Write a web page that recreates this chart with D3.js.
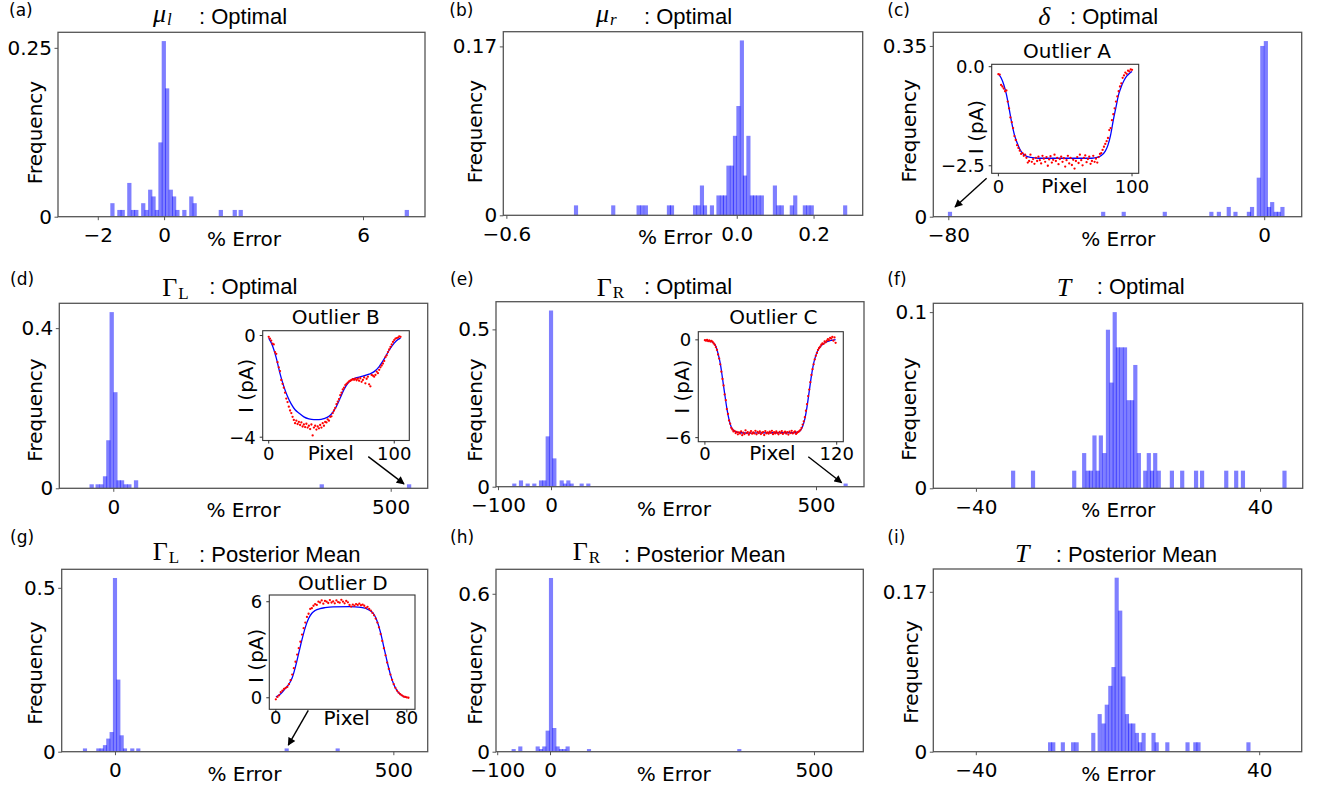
<!DOCTYPE html>
<html>
<head>
<meta charset="utf-8">
<title>Percent error histograms</title>
<script src="https://cdn.jsdelivr.net/npm/d3@7"></script>
<style>
  body { margin: 0; background: #fff; }
  text { font-family: "DejaVu Sans", sans-serif; fill: #000; }
</style>
</head>
<body>
<div id="fig"></div>
<script>
'use strict'

// ---- histograms: left edge of every non-empty bin (% error) and its frequency
let muLBins = [-1.61, -1.40, -1.30, -1.10, -0.99, -0.89, -0.68, -0.58, -0.47, -0.37, -0.27, -0.16, -0.06, 0.04, 0.15, 0.25, 0.35, 0.56, 0.77, 0.87, 1.66, 2.08, 2.26, 7.27]
let muLFreq = [0.02, 0.01, 0.01, 0.05, 0.01, 0.01, 0.02, 0.01, 0.04, 0.03, 0.01, 0.11, 0.26, 0.19, 0.04, 0.03, 0.01, 0.01, 0.03, 0.02, 0.01, 0.01, 0.01, 0.01]

let muRBins = [-0.423, -0.326, -0.260, -0.251, -0.241, -0.181, -0.173, -0.113, -0.104, -0.095, -0.087, -0.069, -0.052, -0.043, -0.035, -0.026, -0.017, -0.009, 0.000, 0.009, 0.017, 0.026, 0.035, 0.043, 0.052, 0.061, 0.095, 0.104, 0.113, 0.139, 0.148, 0.173, 0.182, 0.191, 0.278]
let muRFreq = [0.01, 0.01, 0.01, 0.01, 0.01, 0.01, 0.01, 0.01, 0.01, 0.03, 0.01, 0.01, 0.02, 0.02, 0.02, 0.05, 0.05, 0.08, 0.11, 0.176, 0.04, 0.08, 0.02, 0.02, 0.02, 0.02, 0.03, 0.01, 0.01, 0.01, 0.02, 0.01, 0.01, 0.01, 0.01]

let deltaBins = [-80.0, -41.2, -36.0, -25.6, -13.8, -11.9, -9.4, -7.7, -4.3, -3.5, -1.8, -0.9, 0.0, 0.8, 1.6, 2.5, 3.3, 4.2]
let deltaFreq = [0.01, 0.01, 0.01, 0.01, 0.01, 0.01, 0.02, 0.01, 0.01, 0.02, 0.08, 0.35, 0.36, 0.02, 0.03, 0.01, 0.01, 0.02]

let gamLBins = [-42.1, -31.3, -24.6, -18.0, -12.0, -6.0, 0.6, 6.6, 12.6, 19.2, 25.8, 37.9, 372.6, 530.0]
let gamLFreq = [0.01, 0.01, 0.01, 0.03, 0.12, 0.44, 0.24, 0.02, 0.02, 0.01, 0.01, 0.02, 0.01, 0.01]

let gamRBins = [-72.4, -59.8, -47.2, -34.6, -22.0, -15.7, -9.4, -3.1, 3.2, 17.0, 23.3, 29.6, 35.8, 54.7, 67.3, 552.8]
let gamRFreq = [0.01, 0.02, 0.01, 0.01, 0.02, 0.02, 0.16, 0.56, 0.09, 0.02, 0.01, 0.02, 0.01, 0.01, 0.01, 0.01]

let tBins = [-30.0, -24.4, -12.8, -10.0, -9.0, -8.1, -7.1, -6.2, -5.3, -4.3, -3.3, -2.3, -1.4, -0.5, 0.5, 1.5, 2.5, 3.5, 4.4, 5.4, 7.2, 8.2, 9.1, 10.0, 11.0, 14.7, 17.6, 21.5, 23.2, 30.0, 32.8, 34.7, 46.4]
let tFreq = [0.01, 0.01, 0.01, 0.02, 0.01, 0.01, 0.03, 0.01, 0.03, 0.02, 0.09, 0.06, 0.10, 0.08, 0.08, 0.08, 0.05, 0.05, 0.07, 0.02, 0.01, 0.02, 0.01, 0.02, 0.01, 0.01, 0.01, 0.01, 0.01, 0.01, 0.01, 0.01, 0.01]

let gamLPostBins = [-56.9, -32.9, -26.9, -21.0, -15.0, -9.0, -3.0, 3.0, 9.0, 15.0, 28.1, 38.9, 305.4, 397.0]
let gamLPostFreq = [0.01, 0.01, 0.01, 0.02, 0.04, 0.06, 0.53, 0.22, 0.05, 0.01, 0.01, 0.01, 0.01, 0.01]

let gamRPostBins = [-72.0, -59.4, -26.5, -20.2, -13.9, -7.6, -1.3, 5.0, 11.3, 17.6, 23.9, 30.2, 70.7, 355.4]
let gamRPostFreq = [0.01, 0.02, 0.02, 0.01, 0.02, 0.08, 0.66, 0.09, 0.02, 0.01, 0.01, 0.02, 0.01, 0.01]

let tPostBins = [-19.5, -18.6, -15.9, -13.0, -12.0, -7.3, -5.5, -4.4, -3.5, -2.5, -1.6, -0.7, 0.3, 1.2, 2.2, 3.1, 4.0, 5.0, 5.9, 6.9, 9.7, 10.6, 13.6, 19.3, 21.5, 22.4, 36.5]
let tPostFreq = [0.01, 0.01, 0.01, 0.01, 0.01, 0.02, 0.04, 0.03, 0.05, 0.07, 0.09, 0.185, 0.15, 0.08, 0.04, 0.03, 0.03, 0.02, 0.01, 0.02, 0.02, 0.01, 0.01, 0.01, 0.01, 0.01, 0.01]

// ---- tick values
let muLTicks = [-2, 0, 6]
let muRTicks = [-0.6, 0.0, 0.2]
let deltaTicks = [-80, 0]
let gamLTicks = [0, 500]
let gamRTicks = [-100, 0, 500]
let tTicks = [-40, 40]

// ---- outlier insets: measured current I (pA) at pixel 0,1,2,...
let outlierA = [-0.19, -0.20, -0.46, -0.50, -0.55, -0.62, -0.60, -0.88, -1.05, -1.28,
	-1.40, -1.55, -1.75, -1.85, -1.98, -2.05, -2.12, -2.20, -2.18, -2.25,
	-2.22, -2.30, -2.42, -2.38, -2.22, -2.40, -2.33, -2.45, -2.30, -2.38,
	-2.27, -2.36, -2.44, -2.25, -2.32, -2.40, -2.28, -2.50, -2.34, -2.26,
	-2.42, -2.35, -2.22, -2.38, -2.30, -2.46, -2.33, -2.27, -2.40, -2.31,
	-2.52, -2.36, -2.25, -2.44, -2.30, -2.48, -2.35, -2.57, -2.38, -2.28,
	-2.43, -2.22, -2.36, -2.49, -2.30, -2.24, -2.41, -2.33, -2.27, -2.45,
	-2.38, -2.25, -2.40, -2.32, -2.42, -2.28, -2.20, -2.18, -2.10, -2.02,
	-1.95, -1.88, -1.80, -1.60, -1.55, -1.35, -1.20, -1.05, -0.88, -0.75,
	-0.62, -0.50, -0.42, -0.28, -0.22, -0.15, -0.18, -0.10, -0.12, -0.07,
	-0.08]
let fitAx = [0, 2, 4, 6, 8, 10, 12, 14, 16, 18, 20, 24, 30, 50, 70, 74, 77, 80, 82, 84, 86, 88, 90, 92, 94, 96, 98, 100]
let fitAy = [-0.18, -0.28, -0.45, -0.70, -1.05, -1.42, -1.72, -1.92, -2.08, -2.18, -2.24, -2.29, -2.31, -2.31, -2.31, -2.29, -2.24, -2.13, -1.98, -1.72, -1.35, -1.02, -0.70, -0.50, -0.35, -0.24, -0.17, -0.12]

let outlierB = [-0.05, -0.12, -0.20, -0.32, -0.35, -0.65, -0.72, -1.05, -1.25, -1.40,
	-1.75, -1.90, -2.05, -2.25, -2.48, -2.62, -2.80, -2.95, -3.05, -3.20,
	-3.32, -3.45, -3.35, -3.48, -3.40, -3.52, -3.42, -3.58, -3.50, -3.60,
	-3.47, -3.62, -3.55, -3.68, -3.50, -3.93, -3.62, -3.55, -3.70, -3.58,
	-3.65, -3.52, -3.62, -3.45, -3.55, -3.40, -3.42, -3.30, -3.35, -3.20,
	-3.18, -3.05, -2.95, -2.85, -2.70, -2.60, -2.50, -2.35, -2.25, -2.12,
	-2.05, -1.95, -1.90, -1.85, -1.80, -1.78, -1.75, -1.72, -1.74, -1.70,
	-1.76, -1.70, -1.78, -1.68, -1.82, -1.75, -1.65, -1.88, -1.70, -1.62,
	-1.92, -2.00, -1.55, -1.58, -1.62, -1.55, -1.42, -1.48, -1.35, -1.25,
	-1.18, -1.10, -1.00, -0.85, -0.78, -0.65, -0.55, -0.45, -0.35, -0.25,
	-0.18, -0.12, -0.10, -0.08, -0.03, -0.05]
let fitBx = [0, 3, 6, 9, 12, 15, 18, 21, 24, 28, 32, 36, 40, 44, 48, 51, 54, 57, 60, 63, 66, 70, 75, 80, 84, 88, 92, 96, 100, 103, 105]
let fitBy = [-0.10, -0.40, -0.88, -1.50, -2.00, -2.40, -2.70, -2.92, -3.05, -3.20, -3.28, -3.31, -3.31, -3.27, -3.18, -3.02, -2.78, -2.45, -2.12, -1.88, -1.74, -1.66, -1.60, -1.52, -1.42, -1.22, -0.92, -0.57, -0.30, -0.16, -0.10]

let outlierC = [-0.02, -0.05, 0.00, -0.08, -0.04, -0.10, -0.06, -0.12, -0.22, -0.30,
	-0.45, -0.62, -0.90, -1.15, -1.50, -1.95, -2.40, -2.80, -3.35, -3.70,
	-4.25, -4.55, -4.95, -5.15, -5.40, -5.50, -5.62, -5.58, -5.72, -5.65,
	-5.80, -5.68, -5.75, -5.62, -5.85, -5.70, -5.78, -5.55, -5.72, -5.66,
	-5.82, -5.70, -5.60, -5.76, -5.68, -5.74, -5.58, -5.80, -5.65, -5.72,
	-5.62, -5.78, -5.70, -5.66, -5.84, -5.60, -5.73, -5.68, -5.76, -5.64,
	-5.70, -5.58, -5.79, -5.67, -5.74, -5.62, -5.71, -5.80, -5.65, -5.72,
	-5.60, -5.77, -5.69, -5.63, -5.75, -5.66, -5.81, -5.64, -5.72, -5.58,
	-5.74, -5.68, -5.62, -5.77, -5.70, -5.65, -5.60, -5.52, -5.40, -5.20,
	-5.00, -4.75, -4.35, -3.95, -3.45, -3.05, -2.60, -2.15, -1.80, -1.50,
	-1.20, -0.98, -0.80, -0.62, -0.50, -0.42, -0.30, -0.22, -0.25, -0.10,
	-0.15, -0.05, 0.05, -0.02, 0.12, 0.08, 0.18, -0.05, 0.15, -0.18]
let fitCx = [0, 4, 8, 10, 12, 14, 16, 18, 20, 22, 24, 26, 28, 32, 40, 60, 80, 85, 87, 89, 91, 93, 95, 97, 99, 101, 103, 106, 110, 115, 119]
let fitCy = [-0.03, -0.06, -0.20, -0.40, -0.85, -1.45, -2.35, -3.30, -4.20, -4.90, -5.35, -5.55, -5.65, -5.70, -5.72, -5.70, -5.70, -5.65, -5.55, -5.30, -4.85, -4.10, -3.15, -2.20, -1.45, -0.95, -0.62, -0.35, -0.15, -0.03, 0.02]

let outlierD = [-0.10, 0.05, 0.15, 0.35, 0.45, 0.55, 0.62, 0.68, 0.85, 1.10,
	1.45, 1.85, 2.25, 2.70, 3.10, 3.50, 3.95, 4.35, 4.70, 5.05,
	5.25, 5.55, 5.60, 5.75, 5.85, 5.80, 6.00, 5.95, 6.08, 5.88,
	6.05, 6.00, 5.92, 6.10, 5.95, 6.02, 5.90, 6.08, 5.98, 5.94,
	6.12, 6.00, 5.90, 6.05, 5.96, 5.80, 5.70, 5.82, 5.75, 5.85,
	5.80, 5.88, 5.78, 5.82, 5.75, 5.62, 5.68, 5.55, 5.45, 5.30,
	5.15, 4.95, 4.70, 4.40, 3.98, 3.55, 3.10, 2.65, 2.20, 1.80,
	1.45, 1.12, 0.85, 0.62, 0.45, 0.32, 0.22, 0.15, 0.08, 0.05,
	0.02, 0.00]
let fitDx = [0, 3, 6, 8, 10, 12, 14, 16, 18, 20, 22, 24, 27, 30, 35, 45, 52, 55, 58, 60, 62, 64, 66, 68, 70, 72, 74, 76, 78, 80]
let fitDy = [0.05, 0.25, 0.60, 0.85, 1.25, 1.95, 2.80, 3.65, 4.40, 4.95, 5.28, 5.45, 5.57, 5.63, 5.68, 5.69, 5.65, 5.58, 5.42, 5.20, 4.75, 4.05, 3.15, 2.25, 1.45, 0.85, 0.45, 0.22, 0.08, 0.03]


let panels = [
	{id: 'a', label: '(a)', lx: 9, ly: 15.5, box: [58, 32.3, 425, 216.7], xDom: [-3.2, 7.87],
	 bins: muLBins, freq: muLFreq, binW: 0.1035, xTicks: muLTicks, xFmt: 'd', yTick: 0.25, yTickText: '0.25',
	 sym: 'μ', sub: 'l', italic: true, symX: 153, symDy: -2, subDy: 3, colonX: 199, title: ': Optimal', titleY: 24,
	 ylx: 41.6, yly: 132.5, xlx: 244},
	{id: 'b', label: '(b)', lx: 449.3, ly: 15.5, box: [503.3, 31.7, 862.7, 215.3], xDom: [-0.608, 0.328],
	 bins: muRBins, freq: muRFreq, binW: 0.0087, xTicks: muRTicks, xFmt: '.1f', yTick: 0.17, yTickText: '0.17',
	 sym: 'μ', sub: 'r', italic: true, symX: 596, symDy: -2, subDy: 3, colonX: 644, title: ': Optimal', titleY: 24,
	 ylx: 481.5, yly: 131.5, xlx: 675},
	{id: 'c', label: '(c)', lx: 887.3, ly: 15.5, box: [933.3, 32.3, 1301.7, 216.7], xDom: [-83.8, 9.5],
	 bins: deltaBins, freq: deltaFreq, binW: 0.85, xTicks: deltaTicks, xFmt: 'd', yTick: 0.35, yTickText: '0.35',
	 sym: 'δ', sub: null, italic: true, symX: 1038.3, symDy: 0.5, colonX: 1070, title: ': Optimal', titleY: 24,
	 ylx: 916.3, yly: 130.8, xlx: 1118.3, arrow: [[-70.3, 0.079], [-78.3, 0.02]]},
	{id: 'd', label: '(d)', lx: 10, ly: 285, box: [59.3, 303.3, 427.7, 488.3], xDom: [-97.3, 566.7],
	 bins: gamLBins, freq: gamLFreq, binW: 6.3, xTicks: gamLTicks, xFmt: 'd', yTick: 0.4, yTickText: '0.4',
	 sym: 'Γ', sub: 'L', italic: false, symX: 162.3, symDy: 2.5, subDy: 3, colonX: 209.3, title: ': Optimal', titleY: 293.5,
	 ylx: 41.6, yly: 410, xlx: 243.5, arrow: [[459.6, 0.079], [524, 0.011]]},
	{id: 'e', label: '(e)', lx: 450, ly: 285, box: [496, 301.7, 864, 486.7], xDom: [-103.8, 590.6],
	 bins: gamRBins, freq: gamRFreq, binW: 6.3, xTicks: gamRTicks, xFmt: 'd', yTick: 0.5, yTickText: '0.5',
	 sym: 'Γ', sub: 'R', italic: false, symX: 596.7, symDy: 2, subDy: 2, colonX: 644, title: ': Optimal', titleY: 293.5,
	 ylx: 481.6, yly: 410, xlx: 674, arrow: [[485.5, 0.095], [548.5, 0.0127]]},
	{id: 'f', label: '(f)', lx: 887.3, ly: 285, box: [933.3, 303.3, 1302.7, 488.3], xDom: [-52, 52],
	 bins: tBins, freq: tFreq, binW: 0.95, xTicks: tTicks, xFmt: 'd', yTick: 0.1, yTickText: '0.1',
	 sym: 'T', sub: null, italic: true, symX: 1056.7, symDy: 2.5, colonX: 1096.7, title: ': Optimal', titleY: 293.5,
	 ylx: 916.3, yly: 409, xlx: 1118.3},
	{id: 'g', label: '(g)', lx: 10, ly: 543, box: [61.7, 569.3, 427.7, 751.7], xDom: [-95.7, 561.7],
	 bins: gamLPostBins, freq: gamLPostFreq, binW: 6.0, xTicks: gamLTicks, xFmt: 'd', yTick: 0.5, yTickText: '0.5',
	 sym: 'Γ', sub: 'L', italic: false, symX: 152.7, symDy: -1.5, subDy: 3, colonX: 199, title: ': Posterior Mean', titleY: 561.7,
	 ylx: 42, yly: 673, xlx: 244.5, arrow: [[347.2, 0.126], [311.3, 0.02]]},
	{id: 'h', label: '(h)', lx: 450, ly: 543, box: [496, 569.3, 863.3, 751.7], xDom: [-102.3, 593.4],
	 bins: gamRPostBins, freq: gamRPostFreq, binW: 6.3, xTicks: gamRTicks, xFmt: 'd', yTick: 0.6, yTickText: '0.6',
	 sym: 'Γ', sub: 'R', italic: false, symX: 572.7, symDy: -1.5, subDy: 3, colonX: 624, title: ': Posterior Mean', titleY: 561.7,
	 ylx: 482, yly: 673, xlx: 673.8},
	{id: 'i', label: '(i)', lx: 887.3, ly: 543, box: [933.3, 569, 1301.7, 751.7], xDom: [-52, 52],
	 bins: tPostBins, freq: tPostFreq, binW: 0.94, xTicks: tTicks, xFmt: 'd', yTick: 0.17, yTickText: '0.17',
	 sym: 'T', sub: null, italic: true, symX: 1015, symDy: 0, colonX: 1055.7, title: ': Posterior Mean', titleY: 561.7,
	 ylx: 918, yly: 672, xlx: 1118.3}
]

let insets = [
	{parent: 'c', box: [991.7, 64.3, 1138.7, 173.3], xDom: [-5, 105], yDom: [-2.69, 0.06], data: outlierA, fitX: fitAx, fitY: fitAy,
	 xTicks: [0, 100], yTicks: [0, -2.5], yFmt: '.1f', title: 'Outlier A', tx: 1067, ty: 58.3,
	 xlx: 1064.5, xly: 193.3, tickY: 193.3, ylx: 983, yly: 127},
	{parent: 'd', box: [262.7, 330.7, 409.3, 440.5], xDom: [-4.8, 112], yDom: [-4.13, 0.19], data: outlierB, fitX: fitBx, fitY: fitBy,
	 xTicks: [0, 100], yTicks: [0, -4], yFmt: 'd', title: 'Outlier B', tx: 335.8, ty: 324,
	 xlx: 330.8, xly: 460, tickY: 459.5, ylx: 252.7, yly: 385.8},
	{parent: 'e', box: [698.3, 331.7, 843.3, 441.7], xDom: [-6, 126], yDom: [-6.25, 0.5], data: outlierC, fitX: fitCx, fitY: fitCy,
	 xTicks: [0, 120], yTicks: [0, -6], yFmt: 'd', title: 'Outlier C', tx: 773.3, ty: 324,
	 xlx: 772.5, xly: 460, tickY: 459.5, ylx: 689.3, yly: 386.7},
	{parent: 'g', box: [269.3, 595, 415, 709.3], xDom: [-4, 85], yDom: [-0.72, 6.42], data: outlierD, fitX: fitDx, fitY: fitDy,
	 xTicks: [0, 80], yTicks: [0, 6], yFmt: 'd', title: 'Outlier D', tx: 342.8, ty: 590,
	 xlx: 346.7, xly: 725, tickY: 723.5, ylx: 262.7, yly: 655.8}
]


let svg = d3.select('#fig').append('svg')
	.attr('width', 1325)
	.attr('height', 787)
	.style('background', '#fff')

svg.append('defs').append('marker')
	.attr('id', 'arrowhead')
	.attr('viewBox', '0 0 10 10')
	.attr('refX', 9).attr('refY', 5)
	.attr('markerWidth', 9).attr('markerHeight', 8)
	.attr('markerUnits', 'userSpaceOnUse')
	.attr('orient', 'auto')
	.append('path').attr('d', 'M0,0 L10,5 L0,10 z').attr('fill', '#000')

let scales = {}

function renderHist(p){
	let l = p.box[0], t = p.box[1], r = p.box[2], b = p.box[3]
	let xScale = d3.scaleLinear().domain(p.xDom).range([l, r])
	let yScale = d3.scaleLinear().domain([0, d3.max(p.freq) * 1.05]).range([b, t])
	scales[p.id] = {x: xScale, y: yScale}

	let g = svg.append('g').attr('id', 'panel-' + p.id)

	g.selectAll('.bar').data(p.bins).enter().append('rect')
		.attr('class', 'bar')
		.attr('x', d => xScale(d) - 0.4)
		.attr('y', (d, i) => yScale(p.freq[i]))
		.attr('width', d => xScale(d + p.binW) - xScale(d) + 0.8)
		.attr('height', (d, i) => b - yScale(p.freq[i]))
		.attr('fill', 'blue')
		.attr('fill-opacity', 0.5)

	g.append('rect')
		.attr('x', l).attr('y', t)
		.attr('width', r - l).attr('height', b - t)
		.attr('fill', 'none')
		.attr('stroke', '#555')
		.attr('stroke-width', 1.3)

	let xa = g.append('g')
		.attr('transform', 'translate(0,' + b + ')')
		.call(d3.axisBottom(xScale).tickValues(p.xTicks).tickFormat(d3.format(p.xFmt)).tickSizeInner(3.5).tickSizeOuter(0).tickPadding(8))
	let ya = g.append('g')
		.attr('transform', 'translate(' + l + ',0)')
		.call(d3.axisLeft(yScale).tickValues([0, p.yTick]).tickFormat(d => d === 0 ? '0' : p.yTickText).tickSizeInner(3.5).tickSizeOuter(0).tickPadding(2.5))
	;[xa, ya].forEach(function(ax){
		ax.select('.domain').remove()
		ax.attr('font-size', 20).attr('font-family', '"DejaVu Sans", sans-serif')
		ax.selectAll('line').attr('stroke', '#555')
		ax.selectAll('text').attr('fill', '#000')
	})

	g.append('text')
		.attr('x', p.xlx).attr('y', b + 29)
		.attr('text-anchor', 'middle')
		.style('font-size', '20px')
		.text('% Error')

	g.append('text')
		.attr('transform', 'translate(' + p.ylx + ',' + p.yly + ') rotate(-90)')
		.attr('text-anchor', 'middle')
		.style('font-size', '20px')
		.text('Frequency')

	g.append('text')
		.attr('x', p.lx).attr('y', p.ly)
		.style('font-size', '17px')
		.text(p.label)

	let sym = g.append('text')
		.attr('x', p.symX).attr('y', p.titleY + p.symDy)
		.style('font-family', '"Liberation Serif", "DejaVu Serif", serif')
		.style('font-size', '26px')
		.style('font-style', p.italic ? 'italic' : 'normal')
		.text(p.sym)
	if (p.sub){
		sym.append('tspan')
			.attr('dx', 1)
			.attr('dy', p.subDy)
			.style('font-size', '17px')
			.text(p.sub)
	}
	g.append('text')
		.attr('x', p.colonX).attr('y', p.titleY)
		.style('font-family', '"Liberation Sans", Arial, sans-serif')
		.style('font-size', '22px')
		.text(p.title)
}

function renderInset(ins){
	let l = ins.box[0], t = ins.box[1], r = ins.box[2], b = ins.box[3]
	let xScale = d3.scaleLinear().domain(ins.xDom).range([l, r])
	let yScale = d3.scaleLinear().domain(ins.yDom).range([b, t])
	let g = svg.append('g').attr('class', 'inset')

	g.append('rect')
		.attr('x', l).attr('y', t)
		.attr('width', r - l).attr('height', b - t)
		.attr('fill', '#fff')

	let fitPts = ins.fitX.map((d, i) => [d, ins.fitY[i]])
	let line = d3.line()
		.x(d => xScale(d[0]))
		.y(d => yScale(d[1]))
		.curve(d3.curveMonotoneX)
	g.append('path')
		.datum(fitPts)
		.attr('d', line)
		.attr('fill', 'none')
		.attr('stroke', 'blue')
		.attr('stroke-width', 1.3)

	g.selectAll('.pt').data(ins.data).enter().append('circle')
		.attr('class', 'pt')
		.attr('cx', (d, i) => xScale(i))
		.attr('cy', d => yScale(d))
		.attr('r', 1.15)
		.attr('fill', 'red')

	g.append('rect')
		.attr('x', l).attr('y', t)
		.attr('width', r - l).attr('height', b - t)
		.attr('fill', 'none')
		.attr('stroke', '#333')
		.attr('stroke-width', 1.1)

	// ticks
	g.selectAll('.xt').data(ins.xTicks).enter().append('line')
		.attr('x1', d => xScale(d)).attr('x2', d => xScale(d))
		.attr('y1', b).attr('y2', b + 3)
		.attr('stroke', '#333')
	g.selectAll('.xtl').data(ins.xTicks).enter().append('text')
		.attr('x', d => xScale(d)).attr('y', ins.tickY)
		.attr('text-anchor', 'middle')
		.style('font-size', '18px')
		.text(d3.format('d'))
	g.selectAll('.yt').data(ins.yTicks).enter().append('line')
		.attr('x1', l - 3).attr('x2', l)
		.attr('y1', d => yScale(d)).attr('y2', d => yScale(d))
		.attr('stroke', '#333')
	g.selectAll('.ytl').data(ins.yTicks).enter().append('text')
		.attr('x', l - 7).attr('y', d => yScale(d))
		.attr('dy', '0.36em')
		.attr('text-anchor', 'end')
		.style('font-size', '18px')
		.text(d3.format(ins.yFmt))

	g.append('text')
		.attr('x', ins.tx).attr('y', ins.ty)
		.attr('text-anchor', 'middle')
		.style('font-size', '20px')
		.text(ins.title)
	g.append('text')
		.attr('x', ins.xlx).attr('y', ins.xly)
		.attr('text-anchor', 'middle')
		.style('font-size', '20px')
		.text('Pixel')
	g.append('text')
		.attr('transform', 'translate(' + ins.ylx + ',' + ins.yly + ') rotate(-90)')
		.attr('text-anchor', 'middle')
		.style('font-size', '20px')
		.text('I (pA)')
}

panels.forEach(renderHist)
insets.forEach(renderInset)

// arrows from each inset down to the outlier bar
panels.filter(p => p.arrow).forEach(function(p){
	let s = scales[p.id]
	svg.append('line')
		.attr('x1', s.x(p.arrow[0][0])).attr('y1', s.y(p.arrow[0][1]))
		.attr('x2', s.x(p.arrow[1][0])).attr('y2', s.y(p.arrow[1][1]))
		.attr('stroke', '#000')
		.attr('stroke-width', 1.4)
		.attr('marker-end', 'url(#arrowhead)')
})
</script>
</body>
</html>
